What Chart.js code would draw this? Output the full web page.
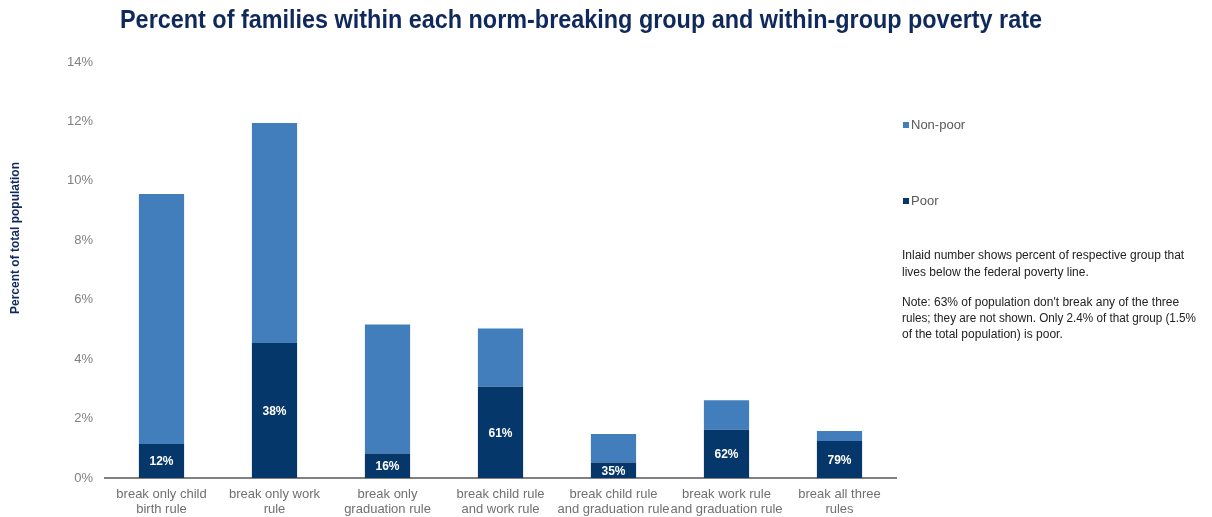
<!DOCTYPE html>
<html lang="en">
<head>
    <meta charset="UTF-8">
    <title>Norm-breaking groups and poverty</title>
    <script src="https://cdn.jsdelivr.net/npm/chart.js@4"></script>
    <style>
        body, html {
            margin: 0;
            background-color: #fff;
        }
        .chart-container {
            position: relative;
            width: 1212px;
            height: 517px;
        }
    </style>
</head>
<body>
<div class="chart-container">
    <canvas id="groupChart"></canvas>
</div>
<script>
    // Groups along the x axis (two lines each)
    const groups = [
        ['break only child', 'birth rule'],
        ['break only work', 'rule'],
        ['break only', 'graduation rule'],
        ['break child rule', 'and work rule'],
        ['break child rule', 'and graduation rule'],
        ['break work rule', 'and graduation rule'],
        ['break all three', 'rules']
    ];
    // Share of total population in each group (%)
    const groupShare = [9.56, 11.95, 5.17, 5.03, 1.48, 2.62, 1.58];
    // Poverty rate inside each group (%)
    const povertyRate = [12, 38, 16, 61, 35, 62, 79];

    const seriesNames = ['Non-poor', 'Poor'];
    const poorColor = '#06376a';
    const nonPoorColor = '#417ebb';

    const poorShare = groupShare.map((s, i) => s * povertyRate[i] / 100);
    const nonPoorShare = groupShare.map((s, i) => s - poorShare[i]);

    const noteLines = [
        ['Inlaid number shows percent of respective group that', 256],
        ['lives below the federal poverty line.', 273],
        ["Note: 63% of population don't break any of the three", 303],
        ['rules; they are not shown. Only 2.4% of that group (1.5%', 319],
        ['of the total population) is poor.', 335]
    ];

    // title, y title, legend, note and the inlaid rates
    const decorations = {
        id: 'decorations',
        afterDatasetsDraw(chart) {
            const ctx = chart.ctx;
            ctx.save();

            // inlaid poverty rate in the middle of each poor segment
            const poorMeta = chart.getDatasetMeta(1);
            ctx.fillStyle = '#ffffff';
            ctx.font = 'bold 12px "Liberation Sans", Arial, sans-serif';
            ctx.textAlign = 'center';
            ctx.textBaseline = 'middle';
            poorMeta.data.forEach((bar, i) => {
                const mid = (bar.y + bar.base) / 2;
                ctx.fillText(povertyRate[i] + '%', bar.x, Math.min(mid + 1, bar.base - 6));
            });
            ctx.restore();
        },
        afterDraw(chart) {
            const ctx = chart.ctx;
            ctx.save();

            // title
            ctx.fillStyle = '#10295c';
            ctx.font = 'bold 25px "Liberation Sans", Arial, sans-serif';
            ctx.textAlign = 'center';
            ctx.textBaseline = 'middle';
            ctx.fillText('Percent of families within each norm-breaking group and within-group poverty rate', 581, 21, 922);

            // y axis title
            ctx.save();
            ctx.translate(16, 238);
            ctx.rotate(-Math.PI / 2);
            ctx.font = 'bold 12px "Liberation Sans", Arial, sans-serif';
            ctx.fillText('Percent of total population', 0, 0);
            ctx.restore();

            // legend
            const legendRows = [[seriesNames[0], nonPoorColor, 125], [seriesNames[1], poorColor, 201]];
            ctx.textAlign = 'left';
            ctx.font = '13px "Liberation Sans", Arial, sans-serif';
            legendRows.forEach(([name, color, y]) => {
                ctx.fillStyle = color;
                ctx.fillRect(903, y - 3, 6, 6);
                ctx.fillStyle = '#595959';
                ctx.fillText(name, 911, y);
            });

            // note
            ctx.fillStyle = '#222222';
            ctx.font = '12px "Liberation Sans", Arial, sans-serif';
            noteLines.forEach(([text, y]) => ctx.fillText(text, 902, y, 294));

            ctx.restore();
        }
    };

    const ctx = document.getElementById('groupChart').getContext('2d');
    const groupChart = new Chart(ctx, {
        type: 'bar',
        data: {
            labels: groups,
            datasets: [{
                label: seriesNames[0],
                data: nonPoorShare,
                backgroundColor: nonPoorColor,
                stack: 'pop',
                order: 1
            }, {
                label: seriesNames[1],
                data: poorShare,
                backgroundColor: poorColor,
                stack: 'pop',
                order: 0
            }]
        },
        options: {
            responsive: true,
            maintainAspectRatio: false,
            animation: false,
            layout: {
                padding: {left: 0, right: 316, top: 62, bottom: 0}
            },
            plugins: {
                legend: {display: false},
                tooltip: {enabled: false}
            },
            datasets: {
                bar: {
                    categoryPercentage: 1,
                    barPercentage: 0.4
                }
            },
            scales: {
                x: {
                    stacked: true,
                    grid: {display: false, drawTicks: false},
                    border: {color: '#808080', width: 2},
                    afterFit(scale) { scale.height = 39; },
                    ticks: {
                        color: '#707070',
                        font: {family: '"Liberation Sans", Arial, sans-serif', size: 13, lineHeight: 1.15},
                        padding: 9,
                        maxRotation: 0,
                        autoSkip: false
                    }
                },
                y: {
                    stacked: true,
                    min: 0,
                    max: 14,
                    grid: {display: false, drawTicks: false},
                    border: {display: false},
                    afterFit(scale) { scale.width = 105; },
                    ticks: {
                        stepSize: 2,
                        color: '#808080',
                        padding: 12,
                        font: {family: '"Liberation Sans", Arial, sans-serif', size: 13},
                        callback: v => v + '%'
                    }
                }
            }
        },
        plugins: [decorations]
    });
</script>
</body>
</html>
